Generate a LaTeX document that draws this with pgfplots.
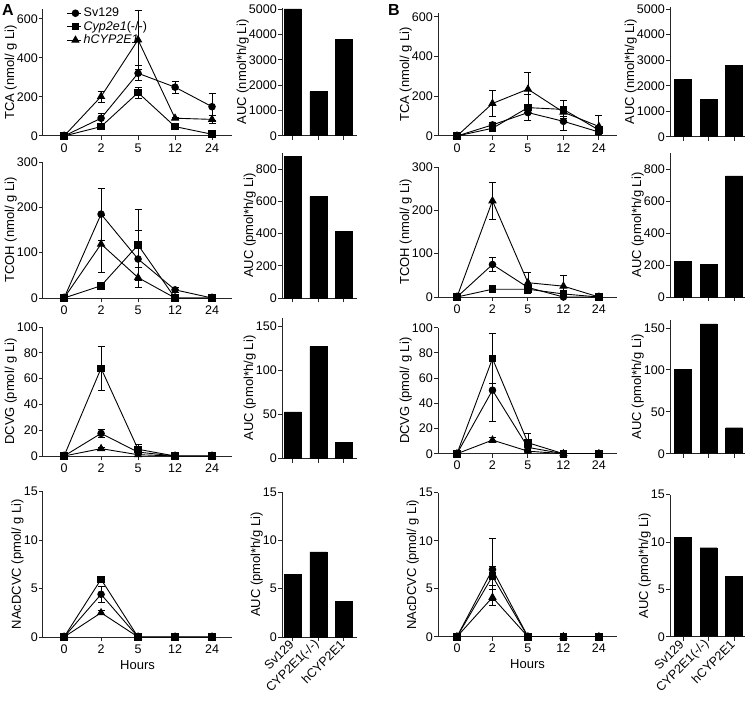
\documentclass[border=0pt]{standalone}
\usepackage{pgfplots}
\pgfplotsset{compat=1.18}
\usepackage{fontspec}
\setmainfont{Liberation Sans}
\pgfplotsset{
  gp/.style={scale only axis, anchor=south west, axis lines*=left,
    axis line style={line width=1pt, black!85},
    every tick/.style={line width=1pt, black!85},
    tick align=outside, major tick length=4pt,
    tick label style={font=\fontsize{12.5}{14}\selectfont},
    yticklabel style={inner xsep=1pt},
    ylabel style={font=\fontsize{13}{15}\selectfont, inner sep=0pt},
    ylabel shift=-1pt,
    xlabel style={font=\fontsize{13}{15}\selectfont},
    /pgf/number format/assume math mode=true,
    /pgf/number format/1000 sep={},
    scaled y ticks=false, ymin=0},
  lineA/.style={gp, xmin=-0.57, xmax=4.54, width=189pt, xtick={0,1,2,3,4}, xticklabels={0,2,5,12,24}},
  lineB/.style={gp, xmin=-0.535, xmax=4.51, width=179pt, xtick={0,1,2,3,4}, xticklabels={0,2,5,12,24}},
  barA/.style={gp, xmin=-0.43, xmax=2.51, width=75pt, xtick={0,1,2}, xticklabels={}},
  barB/.style={gp, xmin=-0.51, xmax=2.43, width=75pt, xtick={0,1,2}, xticklabels={}},
  err/.style={error bars/.cd, y dir=both, y explicit,
    error bar style={line width=0.9pt, black},
    error mark options={rotate=90, mark size=3.5pt, line width=0.9pt, black}},
  sv/.style={black, line width=0.9pt, mark=*, mark size=3.3pt, mark options={solid}, err},
  cy/.style={black, line width=0.9pt, mark=square*, mark size=3.3pt, mark options={solid}, err},
  hc/.style={black, line width=0.9pt, mark=triangle*, mark size=4pt, mark options={solid}, err},
  bars/.style={ybar, bar width=17pt, fill=black, draw=black},
  rotlab/.style={xticklabels={Sv129,CYP2E1(-/-),hCYP2E1}, xticklabel style={rotate=45, anchor=east, inner sep=2pt}},
}
\begin{document}
\begin{tikzpicture}
\useasboundingbox (0,0) rectangle (755pt,-703pt);
\node[anchor=north west, inner sep=0pt, font=\bfseries\fontsize{16}{17}\selectfont] at (2pt,-4pt) {A};
\node[anchor=north west, inner sep=0pt, font=\bfseries\fontsize{16}{17}\selectfont] at (388pt,-4pt) {B};
% ===== Row 1 =====
\begin{axis}[lineA, at={(43pt,-136pt)}, height=127pt, ymax=650, ytick={0,200,400,600},
  ylabel={TCA (nmol/ g Li)},
  legend style={draw=none, fill=none, at={(0.126,1.04)}, anchor=north west, inner xsep=0pt,
    nodes={inner xsep=1.8pt}, column sep=0pt,
    font=\fontsize{12.5}{13}\selectfont, row sep=-1pt, cells={anchor=west}},
  legend image code/.code={\draw[mark repeat=2,mark phase=2,#1] plot coordinates {(0pt,0pt)(8pt,0pt)(14pt,0pt)};}]
\addplot[sv] coordinates {(0,0)+-(0,0) (1,91)+-(0,25) (2,321)+-(0,38) (3,250)+-(0,31) (4,150)+-(0,70)};
\addplot[cy] coordinates {(0,0)+-(0,0) (1,48)+-(0,15) (2,222)+-(0,28) (3,48)+-(0,8) (4,9)+-(0,10)};
\addplot[hc] coordinates {(0,0)+-(0,0) (1,202)+-(0,28) (2,492)+-(0,151) (3,91)+-(0,6) (4,85)+-(0,20)};
\legend{Sv129,\textit{Cyp2e1}(-/-),\textit{hCYP2E1}}
\end{axis}
\begin{axis}[barA, at={(282pt,-136pt)}, height=128pt, ymax=5050, ytick={0,1000,2000,3000,4000,5000},
  ylabel={AUC (nmol*h/g Li)}]
\addplot[bars] coordinates {(0,5020) (1,1760) (2,3820)};
\end{axis}
\begin{axis}[lineB, at={(438pt,-136pt)}, height=123pt, ymax=620, ytick={0,200,400,600},
  ylabel={TCA (nmol/ g Li)}]
\addplot[sv] coordinates {(0,0)+-(0,0) (1,56)+-(0,12) (2,118)+-(0,40) (3,74)+-(0,46) (4,20)+-(0,10)};
\addplot[cy] coordinates {(0,0)+-(0,0) (1,39)+-(0,8) (2,143)+-(0,65) (3,134)+-(0,45) (4,30)+-(0,15)};
\addplot[hc] coordinates {(0,0)+-(0,0) (1,164)+-(0,66) (2,236)+-(0,82) (3,120)+-(0,20) (4,48)+-(0,58)};
\end{axis}
\begin{axis}[barB, at={(670pt,-137pt)}, height=130.5pt, ymax=5100, ytick={0,1000,2000,3000,4000,5000},
  ylabel={AUC (nmol*h/g Li)}]
\addplot[bars] coordinates {(0,2250) (1,1480) (2,2810)};
\end{axis}
% ===== Row 2 =====
\begin{axis}[lineA, at={(43pt,-298pt)}, height=136pt, ymax=300, ytick={0,100,200,300},
  ylabel={TCOH (nmol/ g Li)}]
\addplot[sv] coordinates {(0,0)+-(0,0) (1,185)+-(0,57) (2,86)+-(0,63) (3,18)+-(0,6) (4,0)+-(0,0)};
\addplot[cy] coordinates {(0,0)+-(0,0) (1,27)+-(0,6) (2,117)+-(0,79) (3,0)+-(0,0) (4,0)+-(0,0)};
\addplot[hc] coordinates {(0,0)+-(0,0) (1,119)+-(0,62) (2,45)+-(0,22) (3,0)+-(0,0) (4,0)+-(0,0)};
\end{axis}
\begin{axis}[barA, at={(282pt,-298pt)}, height=145pt, ymax=900, ytick={0,200,400,600,800},
  ylabel={AUC (pmol*h/g Li)}]
\addplot[bars] coordinates {(0,880) (1,630) (2,415)};
\end{axis}
\begin{axis}[lineB, at={(438pt,-297pt)}, height=130pt, ymax=300, ytick={0,100,200,300},
  ylabel={TCOH (nmol/ g Li)}]
\addplot[sv] coordinates {(0,0)+-(0,0) (1,75)+-(0,17) (2,22)+-(0,5) (3,0)+-(0,0) (4,0)+-(0,0)};
\addplot[cy] coordinates {(0,0)+-(0,0) (1,18)+-(0,2) (2,18)+-(0,4) (3,7)+-(0,3) (4,0)+-(0,0)};
\addplot[hc] coordinates {(0,0)+-(0,0) (1,222)+-(0,43) (2,33)+-(0,24) (3,25)+-(0,25) (4,0)+-(0,0)};
\end{axis}
\begin{axis}[barB, at={(670pt,-297pt)}, height=144pt, ymax=900, ytick={0,200,400,600,800},
  ylabel={AUC (pmol*h/g Li)}]
\addplot[bars] coordinates {(0,225) (1,203) (2,757)};
\end{axis}
% ===== Row 3 =====
\begin{axis}[lineA, at={(43pt,-456pt)}, height=129pt, ymax=100, ytick={0,20,40,60,80,100},
  ylabel={DCVG (pmol/ g Li)}]
\addplot[sv] coordinates {(0,0)+-(0,0) (1,17.5)+-(0,3) (2,3)+-(0,1) (3,0)+-(0,0) (4,0)+-(0,0)};
\addplot[cy] coordinates {(0,0)+-(0,0) (1,68)+-(0,17) (2,5.2)+-(0,4) (3,0)+-(0,0) (4,0)+-(0,0)};
\addplot[hc] coordinates {(0,0)+-(0,0) (1,5.7)+-(0,0.8) (2,1)+-(0,0) (3,0)+-(0,0) (4,0)+-(0,0)};
\end{axis}
\begin{axis}[barA, at={(282pt,-458.5pt)}, height=141pt, ymax=160, ytick={0,50,100,150},
  ylabel={AUC (pmol*h/g Li)}]
\addplot[bars] coordinates {(0,53) (1,127) (2,18)};
\end{axis}
\begin{axis}[lineB, at={(438pt,-453.7pt)}, height=126pt, ymax=100, ytick={0,20,40,60,80,100},
  ylabel={DCVG (pmol/ g Li)}]
\addplot[sv] coordinates {(0,0)+-(0,0) (1,50.4)+-(0,25) (2,5)+-(0,2) (3,0)+-(0,0) (4,0)+-(0,0)};
\addplot[cy] coordinates {(0,0)+-(0,0) (1,75.5)+-(0,20) (2,8.7)+-(0,7) (3,0)+-(0,0) (4,0)+-(0,0)};
\addplot[hc] coordinates {(0,0)+-(0,0) (1,10.8)+-(0,2) (2,2)+-(0,0.5) (3,0)+-(0,0) (4,0)+-(0,0)};
\end{axis}
\begin{axis}[barB, at={(670pt,-453.7pt)}, height=134pt, ymax=160, ytick={0,50,100,150},
  ylabel={AUC (pmol*h/g Li)}]
\addplot[bars] coordinates {(0,101) (1,155) (2,31)};
\end{axis}
% ===== Row 4 =====
\begin{axis}[lineA, at={(43pt,-637pt)}, height=145.5pt, ymax=15, ytick={0,5,10,15},
  ylabel={NAcDCVC (pmol/ g Li)}, xlabel={Hours}]
\addplot[sv] coordinates {(0,0)+-(0,0) (1,4.4)+-(0,0.8) (2,0)+-(0,0) (3,0)+-(0,0) (4,0)+-(0,0)};
\addplot[cy] coordinates {(0,0)+-(0,0) (1,5.95)+-(0,0.3) (2,0)+-(0,0) (3,0)+-(0,0) (4,0)+-(0,0)};
\addplot[hc] coordinates {(0,0)+-(0,0) (1,2.5)+-(0,0.2) (2,0)+-(0,0) (3,0)+-(0,0) (4,0)+-(0,0)};
\end{axis}
\begin{axis}[barA, rotlab, at={(282pt,-637pt)}, height=145pt, ymax=15, ytick={0,5,10,15},
  ylabel={AUC (pmol*h/g Li)}]
\addplot[bars] coordinates {(0,6.5) (1,8.8) (2,3.7)};
\end{axis}
\begin{axis}[lineB, at={(438pt,-636.7pt)}, height=144pt, ymax=15, ytick={0,5,10,15},
  ylabel={NAcDCVC (pmol/ g Li)}, xlabel={Hours}]
\addplot[sv] coordinates {(0,0)+-(0,0) (1,7.0)+-(0,3.2) (2,0)+-(0,0) (3,0)+-(0,0) (4,0)+-(0,0)};
\addplot[cy] coordinates {(0,0)+-(0,0) (1,6.3)+-(0,1.0) (2,0)+-(0,0) (3,0)+-(0,0) (4,0)+-(0,0)};
\addplot[hc] coordinates {(0,0)+-(0,0) (1,4.1)+-(0,0.8) (2,0)+-(0,0) (3,0)+-(0,0) (4,0)+-(0,0)};
\end{axis}
\begin{axis}[barB, rotlab, at={(670pt,-636.7pt)}, height=142pt, ymax=15, ytick={0,5,10,15},
  ylabel={AUC (pmol*h/g Li)}]
\addplot[bars] coordinates {(0,10.5) (1,9.4) (2,6.4)};
\end{axis}
\end{tikzpicture}
\end{document}
